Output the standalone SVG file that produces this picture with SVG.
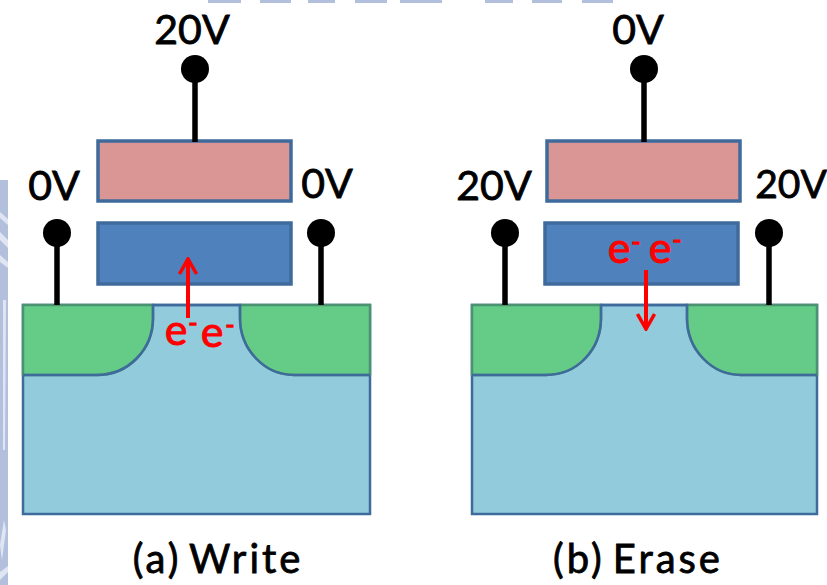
<svg xmlns="http://www.w3.org/2000/svg" width="827" height="585" viewBox="0 0 827 585">
<defs>
<style>
.sub{fill:#92cbdc;stroke:#3f6a9c;stroke-width:2.5}
.well{fill:#65cc88;stroke:#4a9272;stroke-width:2.5}
.edge{fill:none;stroke:#3f6a9c;stroke-width:2.5}
.cg{fill:#d99694;stroke:#3f6a9c;stroke-width:3.5}
.fg{fill:#4f81bd;stroke:#3f6a9c;stroke-width:3.5}
.pin{stroke:#000;stroke-width:5.5;fill:none}
.dot{fill:#000}
.t{font-family:Lato,"Open Sans",sans-serif;font-size:41px;fill:#000;stroke:#000;stroke-width:.8;text-anchor:middle}
.c{font-family:Lato,"Open Sans",sans-serif;font-size:40px;letter-spacing:3px;word-spacing:-5px;fill:#000;stroke:#000;stroke-width:.8;text-anchor:middle}
.e{font-family:Lato,"Open Sans",sans-serif;font-size:43px;fill:#f00;stroke:#f00;stroke-width:1;text-anchor:middle}
.m{font-family:Lato,"Open Sans",sans-serif;font-size:24px;fill:#f00;stroke:#f00;stroke-width:1.4;text-anchor:middle}
.ar{stroke:#f00;stroke-width:4;fill:none}
.wm{fill:#b3c0dd}
.wl{fill:#dfe5f2}
</style>
<marker id="h" viewBox="0 0 20 20" refX="18" refY="10" markerWidth="20" markerHeight="20" markerUnits="userSpaceOnUse" orient="auto"><path d="M3 1.500L18 10L3 18.500" fill="none" stroke="#f00" stroke-width="3.500"/></marker>
</defs>
<rect width="827" height="585" fill="#fff"/>
<g id="bg">
<rect class="wm" x="0" y="180" width="8" height="405"/>
<path class="wl" d="M0 212L8 219V225L0 218ZM0 232L8 240V248L0 240ZM0 255L8 262V268L0 262ZM3 300L6 300L5 450L3 450ZM0 545L4 520L6 530L2 560ZM0 572L8 566V572L0 580Z"/>
<rect class="wm" x="208" y="0" width="33" height="3"/><rect class="wm" x="260" y="0" width="31" height="3"/><rect class="wm" x="308" y="0" width="27" height="3"/><rect class="wm" x="355" y="0" width="32" height="3"/><rect class="wm" x="400" y="0" width="42" height="3"/><rect class="wm" x="485" y="0" width="28" height="3"/><rect class="wm" x="532" y="0" width="30" height="3"/><rect class="wm" x="582" y="0" width="31" height="3"/>
</g>
<g id="write-device">
<rect id="a-sub" class="sub" x="23" y="305" width="347" height="209"/>
<path id="a-well-l" class="well" d="M23 375V305H153V318C153 350 128 375 97 375Z"/>
<path id="a-well-r" class="well" d="M370 375V305H240V318C240 350 265 375 294 375Z"/>
<path class="edge" d="M23 375H97C128 375 153 350 153 318V305H240V318C240 350 265 375 294 375H370"/>
<rect id="a-cg" class="cg" x="98" y="141" width="193" height="60"/>
<rect id="a-fg" class="fg" x="98" y="223" width="193" height="61"/>
</g>
<g id="erase-device">
<rect id="b-sub" class="sub" x="472" y="305" width="345" height="209"/>
<path id="b-well-l" class="well" d="M472 375V305H601V318C601 350 577 375 546 375Z"/>
<path id="b-well-r" class="well" d="M817 375V305H687V318C687 350 712 375 741 375Z"/>
<path class="edge" d="M472 375H546C577 375 601 350 601 318V305H687V318C687 350 712 375 741 375H817"/>
<rect id="b-cg" class="cg" x="547" y="141" width="193" height="60"/>
<rect id="b-fg" class="fg" x="545" y="223" width="193" height="61"/>
</g>
<g id="connectors">
<path class="pin" d="M195 69V142M57 233V305M321 233V305M644 69V142M505 233V305M769 233V305"/>
<path class="ar" d="M188 318V259" marker-end="url(#h)"/>
<path class="ar" d="M646 270V329" marker-end="url(#h)"/>
</g>
<g id="pins">
<circle class="dot" cx="195" cy="69" r="14"/><circle class="dot" cx="57" cy="233" r="14"/><circle class="dot" cx="321" cy="233" r="14"/>
<circle class="dot" cx="644" cy="69" r="14"/><circle class="dot" cx="505" cy="233" r="14"/><circle class="dot" cx="769" cy="233" r="14"/>
</g>
<g id="labels">
<text class="t" x="192" y="44">20V</text>
<text class="t" x="54" y="200">0V</text>
<text class="t" x="327" y="198">0V</text>
<text class="t" x="638" y="44">0V</text>
<text class="t" x="494" y="200">20V</text>
<text class="t" x="791" y="198" style="font-size:39px">20V</text>
<text class="c" x="218" y="573">(a) Write</text>
<text class="c" x="638" y="573">(b) Erase</text>
<text class="e" x="176" y="345">e</text><text class="m" x="193" y="331">-</text>
<text class="e" x="212" y="347">e</text><text class="m" x="230" y="333">-</text>
<text class="e" x="619" y="263">e</text><text class="m" x="636" y="250">-</text>
<text class="e" x="660" y="263">e</text><text class="m" x="677" y="248">-</text>
</g>
</svg>
